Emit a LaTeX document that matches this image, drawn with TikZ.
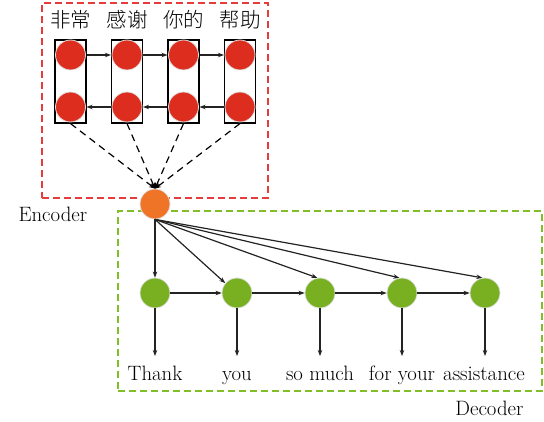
\documentclass[tikz,border=0pt]{standalone}
\usepackage{fontspec}
\newfontfamily\cjk{Noto Sans CJK SC Light}
\usetikzlibrary{arrows.meta}
\definecolor{cred}{RGB}{221,45,30}
\definecolor{corange}{RGB}{240,116,39}
\definecolor{cgreen}{RGB}{120,176,34}
\definecolor{bred}{RGB}{230,60,60}
\definecolor{bgreen}{RGB}{130,190,40}
\definecolor{cline}{RGB}{35,35,35}
\begin{document}
\begin{tikzpicture}[x=1pt,y=-1pt,
  font=\fontsize{20.8}{24}\selectfont,
  ball/.style={circle,minimum size=30pt,inner sep=0pt,draw=black!12,line width=0.8pt},
  redball/.style={ball,fill=cred},
  greenball/.style={ball,fill=cgreen},
  orangeball/.style={ball,fill=corange},
  cell/.style={draw=black,line width=1.1pt,minimum width=31pt,minimum height=83pt,inner sep=0pt},
  arr/.style={draw=cline,line width=1.2pt,-{Stealth[length=6pt,width=4.5pt]}},
  dasharr/.style={draw=black,line width=1.2pt,dash pattern=on 7pt off 5pt,-{Stealth[length=6pt,width=5pt]}},
  encbox/.style={draw=bred,line width=1.2pt,dash pattern=on 7pt off 4pt,inner sep=0pt},
  decbox/.style={draw=bgreen,line width=1.2pt,dash pattern=on 7pt off 4pt,inner sep=0pt},
  cjklab/.style={font=\cjk\fontsize{20.5}{24}\selectfont,anchor=base},
  word/.style={anchor=base}
]
\useasboundingbox (0,0) rectangle (544,422);
% boxes
\node[encbox,minimum width=226pt,minimum height=195pt] (ebox) at (155,100.5) {};
\node[decbox,minimum width=424pt,minimum height=180pt] (dbox) at (330,301) {};
% encoder cells
\foreach \i/\x in {1/70.5,2/127,3/183.5,4/240}{
  \node[cell] (r\i) at (\x,81.5) {};
  \node[redball] (a\i) at (\x,55) {};
  \node[redball] (b\i) at (\x,107) {};
}
\node[cjklab] (w1) at (70.5,28) {非常};
\node[cjklab] (w2) at (127,28) {感谢};
\node[cjklab] (w3) at (183.5,28) {你的};
\node[cjklab] (w4) at (240,28) {帮助};
\foreach \i/\j in {1/2,2/3,3/4}{
  \draw[arr] (r\i.east |- a\i) -- (r\j.west |- a\j);
  \draw[arr] (r\j.west |- b\j) -- (r\i.east |- b\i);
}
% context
\node[orangeball] (enc) at (155,204) {};
\foreach \i in {1,2,3,4}{
  \draw[dasharr] (r\i.south) -- (enc.north);
}
\node[anchor=base west] (enclab) at (15,222) {Encoder};
% decoder
\foreach \i/\x in {1/155,2/237,3/320,4/402,5/485}{
  \node[greenball] (g\i) at (\x,293) {};
  \coordinate (t\i) at (\x,356);
  \draw[arr] (g\i.south) -- (t\i);
}
\draw[arr] (enc.south) -- (g1.north);
\draw[arr] (enc.south) -- (g2.140);
\foreach \i in {3,4,5}{
  \draw[arr] (enc.south) -- (g\i.100);
}
\foreach \i/\j in {1/2,2/3,3/4,4/5}{
  \draw[arr] (g\i.east) -- (g\j.west);
}
\node[word] (o1) at (155,380) {Thank};
\node[word] (o2) at (237,380) {you};
\node[word] (o3) at (320,380) {so much};
\node[word] (o4) at (402,380) {for your};
\node[word] (o5) at (484,380) {assistance};
\node[anchor=base east] (declab) at (527,415) {Decoder};
\end{tikzpicture}
\end{document}
